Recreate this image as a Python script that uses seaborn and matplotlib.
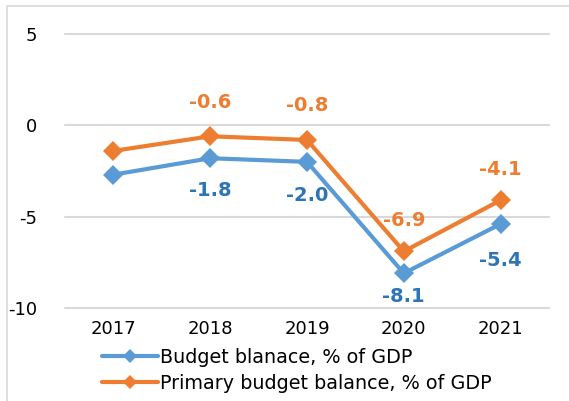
import matplotlib
matplotlib.use("Agg")
import matplotlib.pyplot as plt
import seaborn as sns
import pandas as pd
from matplotlib.lines import Line2D

years = ["2017", "2018", "2019", "2020", "2021"]
budget = [-2.7, -1.8, -2.0, -8.1, -5.4]
primary = [-1.4, -0.6, -0.8, -6.9, -4.1]
series_names = ["Budget blanace, % of GDP", "Primary budget balance, % of GDP"]
labeled_years = ["2018", "2019", "2020", "2021"]

sns.set_theme(style="white")
plt.rcParams['font.family'] = ['DejaVu Sans']
plt.rcParams['axes.unicode_minus'] = False
plt.rcParams['text.color'] = 'black'

df = pd.DataFrame({
    "year": years * 2,
    "value": budget + primary,
    "series": [series_names[0]] * 5 + [series_names[1]] * 5,
})

line_colors = {series_names[0]: "#5B9BD5", series_names[1]: "#ED7D31"}
label_colors = {series_names[0]: "#2E75B6", series_names[1]: "#ED7D31"}
# label offsets (points) per labelled year
label_offsets = {series_names[0]: [-23, -24, -17, -26], series_names[1]: [24, 25, 22, 22]}

fig = plt.figure(figsize=(5.69, 4.01), dpi=100)
ax = fig.add_axes([65/569, 1-308/401, (549-65)/569, (308-34)/401])

sns.lineplot(data=df, x="year", y="value", hue="series", palette=line_colors,
             marker="D", markersize=10, markeredgewidth=0, linewidth=3,
             ax=ax, legend=False, sort=False)

ax.set_xlim(-0.5, 4.5)
ax.set_ylim(-10, 5)
ax.set_yticks([-10, -5, 0, 5])
ax.grid(axis="y", color="#D9D9D9", linewidth=1.5)
for gl in ax.get_ygridlines():
    gl.set_clip_on(False)
ax.set_axisbelow(True)
for s in ax.spines.values():
    s.set_visible(False)
ax.set_xlabel("")
ax.set_ylabel("")
ax.tick_params(axis="y", length=0, pad=20, labelsize=13, labelcolor="black")
ax.tick_params(axis="x", length=0, pad=9, labelsize=13, labelcolor="black")

for name, vals in [(series_names[0], budget), (series_names[1], primary)]:
    k = 0
    for y, v in zip(years, vals):
        if y in labeled_years:
            ax.annotate(f"{v:.1f}", xy=(years.index(y), v), xytext=(0, label_offsets[name][k]),
                        textcoords="offset points", ha="center", va="center",
                        fontsize=14, fontweight="bold", color=label_colors[name])
            k += 1

handles = [Line2D([], [], color=line_colors[n], marker="D", markersize=7,
                  markeredgewidth=0, linewidth=3) for n in series_names]
leg = fig.legend(handles, series_names, loc="upper left", bbox_to_anchor=(102/569, 1-348/401),
                 frameon=False, fontsize=13.8, handlelength=2.9, handletextpad=0.15,
                 labelspacing=0.35, borderaxespad=0, borderpad=0)
for t in leg.get_texts():
    t.set_color("black")

fig.add_artist(Line2D([7/569, 7/569], [0, 1-6/401], color="#D9D9D9", linewidth=1.2,
                      transform=fig.transFigure))
fig.add_artist(Line2D([7/569, 1], [1-6/401, 1-6/401], color="#D9D9D9", linewidth=1.2,
                      transform=fig.transFigure))

fig.savefig("out.png", dpi=100)
